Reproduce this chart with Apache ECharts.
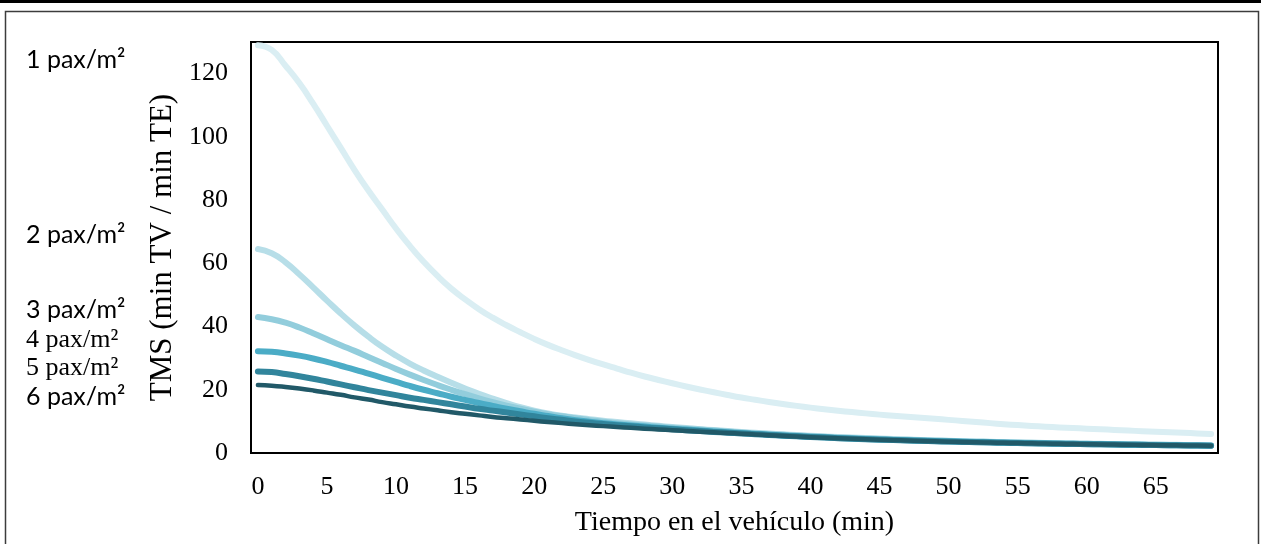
<!DOCTYPE html>
<html>
<head>
<meta charset="utf-8">
<script src="https://cdn.jsdelivr.net/npm/echarts@6/dist/echarts.min.js"></script>
<style>
html,body{margin:0;padding:0;background:#fff;}
#chart{width:1261px;height:544px;}
</style>
</head>
<body>
<div id="chart"></div>
<script>
const minutes = [0,1,2,3,4,5,6,7,8,9,10,11,12,13,14,15,16,17,18,19,20,21,22,23,24,25,26,27,28,29,30,31,32,33,34,35,36,37,38,39,40,41,42,43,44,45,46,47,48,49,50,51,52,53,54,55,56,57,58,59,60,61,62,63,64,65,66,67,68,69];
const yTicks = [0,20,40,60,80,100,120];
const seriesNames = ['1 pax/m²','2 pax/m²','3 pax/m²','4 pax/m²','5 pax/m²','6 pax/m²'];

const pax1 = [129,127.5,122.5,117,110.5,103.5,96.5,89.5,83,77,
  71,65.5,60.5,56,52,48.6,45.5,42.8,40.4,38.2,
  36.1,34.2,32.5,30.9,29.4,28,26.7,25.4,24.2,23.1,
  22.05,21.05,20.1,19.2,18.35,17.55,16.85,16.15,15.5,14.9,
  14.35,13.85,13.38,12.94,12.53,12.14,11.78,11.44,11.12,10.8,
  10.48,10.15,9.8,9.45,9.12,8.82,8.56,8.32,8.1,7.9,
  7.7,7.5,7.3,7.1,6.9,6.72,6.55,6.38,6.2,6.03];
const pax2 = [64.5,63.2,60.3,56.5,52.4,48.2,44.1,40.3,36.8,33.6,
  30.8,28.3,26.1,24.1,22.2,20.4,18.7,17.2,15.8,14.5,
  13.4,12.5,11.8,11.2,10.7,10.2,9.8,9.4,9.0,8.6,
  8.25,7.9,7.55,7.25,6.95,6.65,6.4,6.15,5.9,5.67,
  5.45,5.25,5.06,4.88,4.71,4.55,4.4,4.26,4.13,4.0,
  3.88,3.77,3.66,3.56,3.46,3.37,3.28,3.2,3.12,3.05,
  2.98,2.91,2.85,2.79,2.73,2.67,2.62,2.57,2.52,2.47];
const pax3 = [43,42.3,41.2,39.7,37.9,36.0,34.1,32.3,30.4,28.5,
  26.6,24.8,23.1,21.5,20.0,18.6,17.3,16.1,15.0,14.0,
  13.1,12.3,11.6,11.0,10.4,9.9,9.45,9.05,8.7,8.35,
  8.0,7.7,7.4,7.1,6.83,6.5,6.25,6.0,5.76,5.53,
  5.32,5.12,4.93,4.76,4.59,4.44,4.29,4.16,4.03,3.91,
  3.79,3.68,3.58,3.48,3.38,3.29,3.21,3.13,3.05,2.98,
  2.91,2.84,2.78,2.72,2.66,2.61,2.56,2.51,2.46,2.41];
const pax4 = [32.2,32.0,31.5,30.8,29.9,28.8,27.6,26.4,25.1,23.8,
  22.5,21.2,20.0,18.9,17.8,16.8,15.8,14.9,14.0,13.2,
  12.4,11.7,11.0,10.4,9.9,9.45,9.05,8.7,8.35,8.0,
  7.7,7.4,7.1,6.82,6.56,6.3,6.05,5.8,5.57,5.35,
  5.15,4.95,4.77,4.6,4.44,4.29,4.15,4.02,3.9,3.78,
  3.67,3.56,3.46,3.37,3.28,3.19,3.11,3.03,2.96,2.89,
  2.82,2.76,2.7,2.64,2.58,2.53,2.48,2.43,2.38,2.33];
const pax5 = [25.8,25.6,25.0,24.3,23.5,22.6,21.7,20.8,19.9,19.1,
  18.3,17.5,16.8,16.1,15.4,14.7,14.0,13.4,12.8,12.2,
  11.6,11.0,10.5,10.0,9.55,9.15,8.8,8.45,8.1,7.8,
  7.5,7.2,6.93,6.67,6.42,6.2,5.95,5.71,5.48,5.27,
  5.07,4.88,4.7,4.53,4.37,4.22,4.09,3.96,3.84,3.72,
  3.61,3.51,3.41,3.32,3.23,3.15,3.07,2.99,2.92,2.85,
  2.79,2.73,2.67,2.61,2.55,2.5,2.45,2.4,2.35,2.3];
const pax6 = [21.5,21.3,20.9,20.4,19.8,19.1,18.4,17.6,16.9,16.1,
  15.4,14.7,14.1,13.5,12.9,12.4,11.9,11.4,11.0,10.6,
  10.2,9.8,9.45,9.1,8.8,8.5,8.2,7.95,7.7,7.45,
  7.2,6.97,6.75,6.53,6.32,6.1,5.87,5.64,5.42,5.21,
  5.02,4.83,4.66,4.49,4.34,4.19,4.06,3.93,3.81,3.7,
  3.59,3.49,3.39,3.3,3.21,3.13,3.05,2.98,2.91,2.84,
  2.77,2.71,2.65,2.6,2.54,2.49,2.44,2.39,2.34,2.29];

const allData = [pax1,pax2,pax3,pax4,pax5,pax6];
const colors = ['#DAEEF3','#B7DEE8','#92CDDC','#4BACC6','#31859C','#215968'];
const widths = [6,6,6,6,6,4.5];

const serif = 'Liberation Serif';
const sans = 'Lato';

// side labels: [text, font family, font size, y center]
const sideLabels = [
  [seriesNames[0], sans, 25, 60],
  [seriesNames[1], sans, 25, 235],
  [seriesNames[2], sans, 25, 310],
  [seriesNames[3], serif, 26, 340],
  [seriesNames[4], serif, 26, 368],
  [seriesNames[5], sans, 25, 397]
];

const chart = echarts.init(document.getElementById('chart'), null, {renderer:'canvas'});

const graphics = [
  {type:'rect', left:0, top:0, shape:{x:0,y:0,width:1261,height:3}, style:{fill:'#000'}, silent:true},
  {type:'rect', shape:{x:5.5,y:11.5,width:1253,height:700}, style:{fill:'none', stroke:'#3c3c3c', lineWidth:1.5}, silent:true}
];
sideLabels.forEach(function(l){
  graphics.push({
    type:'text', x:26, y:l[3], silent:true,
    style:{text:l[0], font:l[2] + 'px "' + l[1] + '"', fill:'#000', align:'left', verticalAlign:'middle'}
  });
});

const option = {
  animation:false,
  backgroundColor:'#fff',
  grid:{left:251, top:42, right:43, bottom:91, show:true, borderColor:'#000', borderWidth:2, backgroundColor:'transparent'},
  xAxis:{
    type:'category', data:minutes, boundaryGap:true,
    name:'Tiempo en el vehículo (min)', nameLocation:'middle', nameGap:56,
    nameTextStyle:{fontFamily:serif, fontSize:28, color:'#000'},
    axisLine:{show:false}, axisTick:{show:false},
    axisLabel:{interval:4, fontFamily:serif, fontSize:26, color:'#000', margin:21},
    splitLine:{show:false}
  },
  yAxis:{
    type:'value', min:0, max:130, interval:20,
    name:'TMS (min TV / min TE)', nameLocation:'middle', nameGap:73,
    nameTextStyle:{fontFamily:serif, fontSize:31, color:'#000'},
    axisLine:{show:false}, axisTick:{show:false},
    axisLabel:{fontFamily:serif, fontSize:26, color:'#000', margin:23, showMaxLabel:false,
      formatter:function(v){ return yTicks.indexOf(v) >= 0 ? String(v) : ''; }},
    splitLine:{show:false}
  },
  series: allData.map(function(d,i){
    return {
      name:seriesNames[i], type:'line', data:d, smooth:0.5, showSymbol:false, symbol:'none',
      lineStyle:{color:colors[i], width:widths[i], cap:'round', join:'round'},
      z:2+i
    };
  }),
  graphic:graphics
};
chart.setOption(option);
</script>
</body>
</html>
